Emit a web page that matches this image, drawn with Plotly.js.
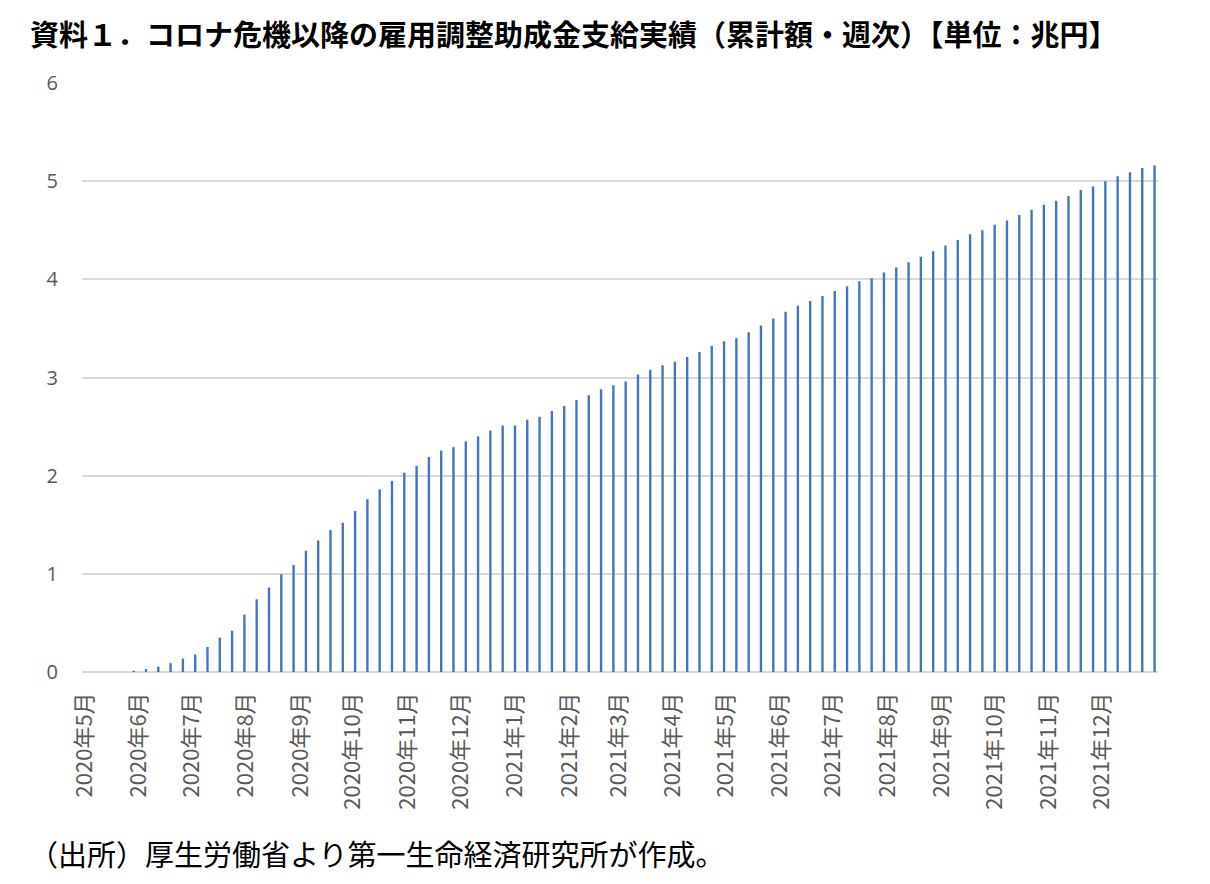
<!DOCTYPE html>
<html>
<head>
<meta charset="utf-8">
<script src="https://cdn.plot.ly/plotly-3.0.1.min.js"></script>
<style>
html,body{margin:0;padding:0;background:#fff;}
#chart{width:1210px;height:884px;}
</style>
</head>
<body>
<div id="chart"></div>
<script>
// Weekly dates (cumulative as of each week)
const weekDates = [
  "2020-05-29","2020-06-05","2020-06-12","2020-06-19","2020-06-26",
  "2020-07-03","2020-07-10","2020-07-17","2020-07-24","2020-07-31",
  "2020-08-07","2020-08-14","2020-08-21","2020-08-28",
  "2020-09-04","2020-09-11","2020-09-18","2020-09-25",
  "2020-10-02","2020-10-09","2020-10-16","2020-10-23","2020-10-30",
  "2020-11-06","2020-11-13","2020-11-20","2020-11-27",
  "2020-12-04","2020-12-11","2020-12-18","2020-12-25",
  "2021-01-01","2021-01-08","2021-01-15","2021-01-22","2021-01-29",
  "2021-02-05","2021-02-12","2021-02-19","2021-02-26",
  "2021-03-05","2021-03-12","2021-03-19","2021-03-26",
  "2021-04-02","2021-04-09","2021-04-16","2021-04-23","2021-04-30",
  "2021-05-07","2021-05-14","2021-05-21","2021-05-28",
  "2021-06-04","2021-06-11","2021-06-18","2021-06-25",
  "2021-07-02","2021-07-09","2021-07-16","2021-07-23","2021-07-30",
  "2021-08-06","2021-08-13","2021-08-20","2021-08-27",
  "2021-09-03","2021-09-10","2021-09-17","2021-09-24",
  "2021-10-01","2021-10-08","2021-10-15","2021-10-22","2021-10-29",
  "2021-11-05","2021-11-12","2021-11-19","2021-11-26",
  "2021-12-03","2021-12-10","2021-12-17","2021-12-24","2021-12-31"
];

// Cumulative payments, trillion yen (兆円)
const cumulativeAmount = [
  0.013, 0.03, 0.054, 0.09, 0.136,
  0.18, 0.255, 0.35, 0.42, 0.585,
  0.74, 0.86, 0.996, 1.09,
  1.235, 1.34, 1.445, 1.52,
  1.64, 1.76, 1.86, 1.945, 2.03,
  2.10, 2.19, 2.255, 2.29,
  2.35, 2.40, 2.46, 2.51,
  2.51, 2.57, 2.60, 2.66, 2.71,
  2.77, 2.82, 2.88, 2.92,
  2.96, 3.03, 3.08, 3.125,
  3.16, 3.21, 3.26, 3.32, 3.37,
  3.40, 3.46, 3.53, 3.60,
  3.67, 3.73, 3.78, 3.83,
  3.88, 3.93, 3.98, 4.01, 4.07,
  4.12, 4.175, 4.23, 4.285,
  4.345, 4.40, 4.46, 4.50,
  4.555, 4.60, 4.655, 4.71, 4.76,
  4.80, 4.85, 4.91, 4.945,
  5.00, 5.05, 5.09, 5.135, 5.16
];

// Month tick positions and labels
const monthTicks = [
  "2020-05-01","2020-06-01","2020-07-01","2020-08-01","2020-09-01","2020-10-01",
  "2020-11-01","2020-12-01","2021-01-01","2021-02-01","2021-03-01","2021-04-01",
  "2021-05-01","2021-06-01","2021-07-01","2021-08-01","2021-09-01","2021-10-01",
  "2021-11-01","2021-12-01"
];
const monthLabels = [
  "2020年5月","2020年6月","2020年7月","2020年8月","2020年9月","2020年10月",
  "2020年11月","2020年12月","2021年1月","2021年2月","2021年3月","2021年4月",
  "2021年5月","2021年6月","2021年7月","2021年8月","2021年9月","2021年10月",
  "2021年11月","2021年12月"
];

const titleText = "資料１．コロナ危機以降の雇用調整助成金支給実績（累計額・週次）【単位：兆円】";
const sourceText = "（出所）厚生労働省より第一生命経済研究所が作成。";

const DAY = 86400000;

const trace = {
  type: "bar",
  x: weekDates,
  y: cumulativeAmount,
  width: 1.35 * DAY,
  marker: { color: "#4472C4", line: { width: 0 } },
  hoverinfo: "x+y"
};

const layout = {
  width: 1210,
  height: 884,
  margin: { l: 82, r: 52, t: 83, b: 212 },
  paper_bgcolor: "#ffffff",
  plot_bgcolor: "#ffffff",
  showlegend: false,
  font: { family: "'Noto Sans CJK JP', 'Noto Sans', sans-serif", color: "#595959" },
  title: {
    text: "<b>" + titleText + "</b>",
    font: { family: "'Noto Sans CJK JP', sans-serif", size: 29, color: "#000000" },
    xref: "container", yref: "container",
    x: 30 / 1210, xanchor: "left",
    y: 1 - 36 / 884, yanchor: "middle"
  },
  xaxis: {
    type: "date",
    range: ["2020-04-29 14:00", "2022-01-01 23:00"],
    tickmode: "array",
    tickvals: monthTicks,
    ticktext: monthLabels,
    tickangle: -90,
    ticks: "",
    ticklabelstandoff: 15,
    tickfont: { family: "'Noto Sans CJK JP', sans-serif", size: 22, color: "#595959" },
    showgrid: false,
    showline: false,
    zeroline: false,
    fixedrange: true
  },
  yaxis: {
    range: [0, 6],
    tickmode: "linear",
    tick0: 0,
    dtick: 1,
    ticks: "",
    ticklabelstandoff: 23,
    tickfont: { family: "'Open Sans', sans-serif", size: 20, color: "#595959" },
    showgrid: true,
    gridcolor: "#d9d9d9",
    gridwidth: 2,
    zeroline: true,
    zerolinecolor: "#d9d9d9",
    zerolinewidth: 2,
    showline: false,
    fixedrange: true
  },
  annotations: [
    {
      text: sourceText,
      xref: "paper", yref: "paper",
      x: (27 - 82) / 1076, xanchor: "left",
      y: (672 - 853) / 589, yanchor: "middle",
      showarrow: false,
      font: { family: "'Noto Sans CJK JP', sans-serif", size: 29, color: "#000000" }
    }
  ]
};

Plotly.newPlot("chart", [trace], layout, { displayModeBar: false, staticPlot: true });
</script>
</body>
</html>
